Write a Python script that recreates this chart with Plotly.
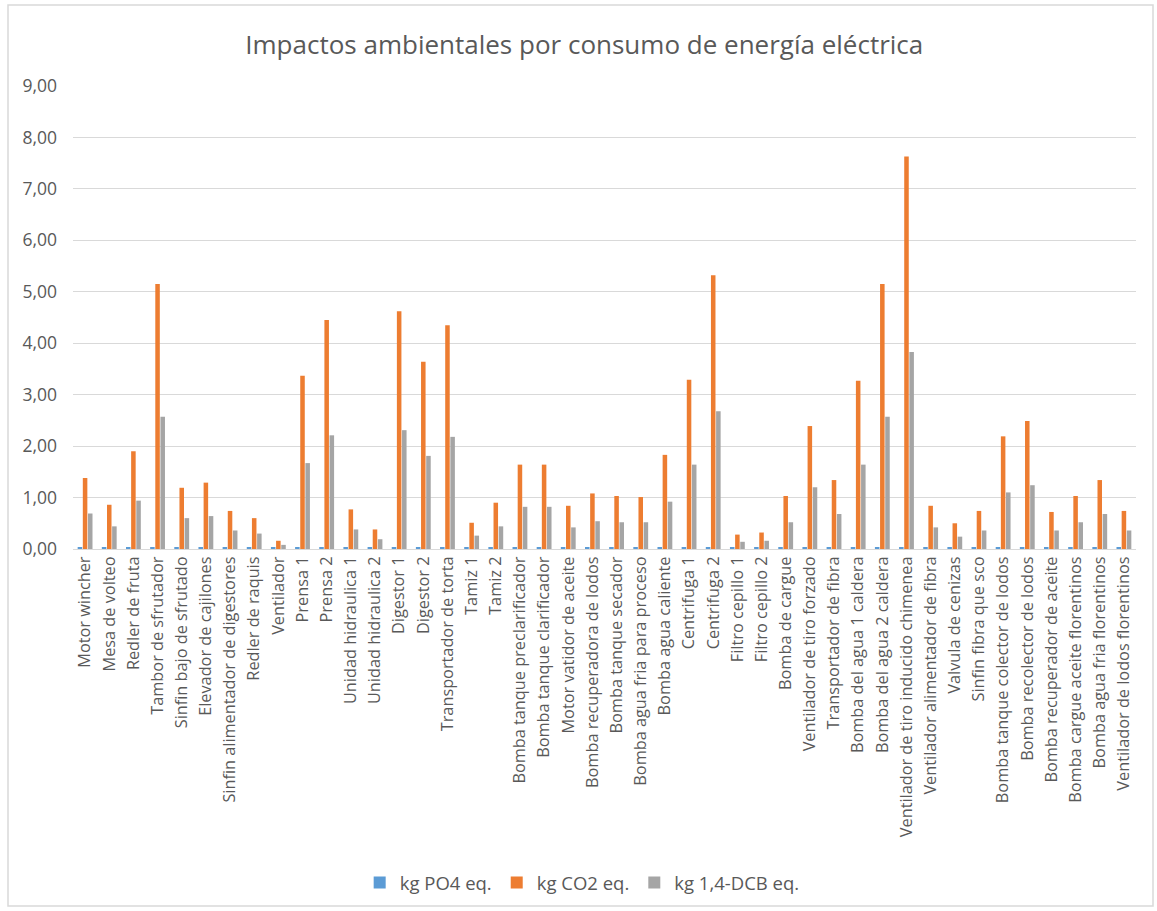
import plotly.graph_objects as go

categories = [
    "Motor wincher", "Mesa de volteo", "Redler de fruta", "Tambor de sfrutador",
    "Sinfin bajo de sfrutado", "Elevador de cajilones", "Sinfin alimentador de digestores",
    "Redler de raquis", "Ventilador", "Prensa 1", "Prensa 2", "Unidad hidraulica 1",
    "Unidad hidraulica 2", "Digestor 1", "Digestor 2", "Transportador de torta",
    "Tamiz 1", "Tamiz 2", "Bomba tanque preclarificador", "Bomba tanque clarificador",
    "Motor vatidor de aceite", "Bomba recuperadora de lodos", "Bomba tanque secador",
    "Bomba agua fria para proceso", "Bomba agua caliente", "Centrifuga 1", "Centrifuga 2",
    "Filtro cepillo 1", "Filtro cepillo 2", "Bomba de cargue", "Ventilador de tiro forzado",
    "Transportador de fibra", "Bomba del agua 1 caldera", "Bomba del agua 2 caldera",
    "Ventilador de tiro inducido chimenea", "Ventilador alimentador de fibra",
    "Valvula de cenizas", "Sinfin fibra que sco", "Bomba tanque colector de lodos",
    "Bomba recolector de lodos", "Bomba recuperador de aceite",
    "Bomba cargue aceite florentinos", "Bomba agua fria florentinos",
    "Ventilador de lodos florentinos",
]

kg_po4 = [0.02, 0.02, 0.02, 0.03, 0.02, 0.02, 0.02, 0.02, 0.02, 0.02, 0.03, 0.02,
          0.02, 0.03, 0.02, 0.03, 0.02, 0.02, 0.02, 0.02, 0.02, 0.02, 0.02, 0.02,
          0.02, 0.02, 0.03, 0.02, 0.02, 0.02, 0.02, 0.02, 0.02, 0.03, 0.03, 0.02,
          0.02, 0.02, 0.02, 0.02, 0.02, 0.02, 0.02, 0.02]

kg_co2 = [1.38, 0.86, 1.90, 5.15, 1.19, 1.29, 0.74, 0.60, 0.16, 3.37, 4.45, 0.77,
          0.38, 4.62, 3.64, 4.35, 0.51, 0.90, 1.64, 1.64, 0.84, 1.08, 1.03, 1.01,
          1.83, 3.29, 5.32, 0.28, 0.32, 1.03, 2.39, 1.34, 3.27, 5.15, 7.63, 0.84,
          0.50, 0.74, 2.19, 2.49, 0.72, 1.03, 1.34, 0.74]

kg_dcb = [0.69, 0.44, 0.94, 2.57, 0.60, 0.64, 0.36, 0.30, 0.08, 1.67, 2.21, 0.38,
          0.19, 2.31, 1.81, 2.18, 0.26, 0.44, 0.82, 0.82, 0.42, 0.54, 0.52, 0.52,
          0.92, 1.64, 2.68, 0.14, 0.16, 0.52, 1.20, 0.68, 1.64, 2.57, 3.83, 0.42,
          0.24, 0.36, 1.10, 1.24, 0.36, 0.52, 0.68, 0.36]

series_names = ["kg PO4 eq.", "kg CO2 eq.", "kg 1,4-DCB eq."]
series_colors = ["#5B9BD5", "#ED7D31", "#A5A5A5"]

fig = go.Figure()
for name, vals, col in zip(series_names, [kg_po4, kg_co2, kg_dcb], series_colors):
    fig.add_trace(go.Bar(x=categories, y=vals, name=name, marker_color=col,
                         marker_line_width=0))

txt = "#595959"
fam = "Open Sans"
L, R, T, B = 73, 21, 86, 362
ph = 911 - T - B
pw = 1157 - L - R
fig.update_layout(
    width=1157, height=911,
    margin=dict(l=L, r=R, t=T, b=B, autoexpand=False),
    paper_bgcolor="white", plot_bgcolor="white",
    separators=",.",
    barmode="group", bargap=0.36, bargroupgap=0.12,
    title=dict(text="Impactos ambientales por consumo de energía eléctrica",
               x=0.505, xanchor="center", y=0.951, yanchor="middle",
               font=dict(family=fam, size=26, color=txt)),
    font=dict(family=fam, color=txt),
    xaxis=dict(tickangle=-90, tickfont=dict(family=fam, size=16.3, color=txt),
               showline=True, linecolor="#D9D9D9", linewidth=1,
               ticks="", showgrid=False, automargin=False),
    yaxis=dict(range=[0, 9], dtick=1, tickformat=".2f",
               tickfont=dict(family=fam, size=17.5, color=txt),
               gridcolor="#D9D9D9", gridwidth=1, zeroline=False,
               showline=False, ticks="", ticklabelstandoff=15, automargin=False),
    legend=dict(orientation="h", x=0.479, xanchor="center",
                yref="container", y=(911 - 883) / 911,
                yanchor="middle", font=dict(family=fam, size=18.5, color=txt),
                itemwidth=30, traceorder="normal"),
    showlegend=True,
)

fig.add_shape(type="rect", xref="paper", yref="paper",
              x0=(8 - L) / pw, x1=(1153 - L) / pw,
              y0=(549 - 906) / ph, y1=(549 - 5) / ph,
              line=dict(color="#D9D9D9", width=1.5), layer="below")

fig.write_html("out.html")
